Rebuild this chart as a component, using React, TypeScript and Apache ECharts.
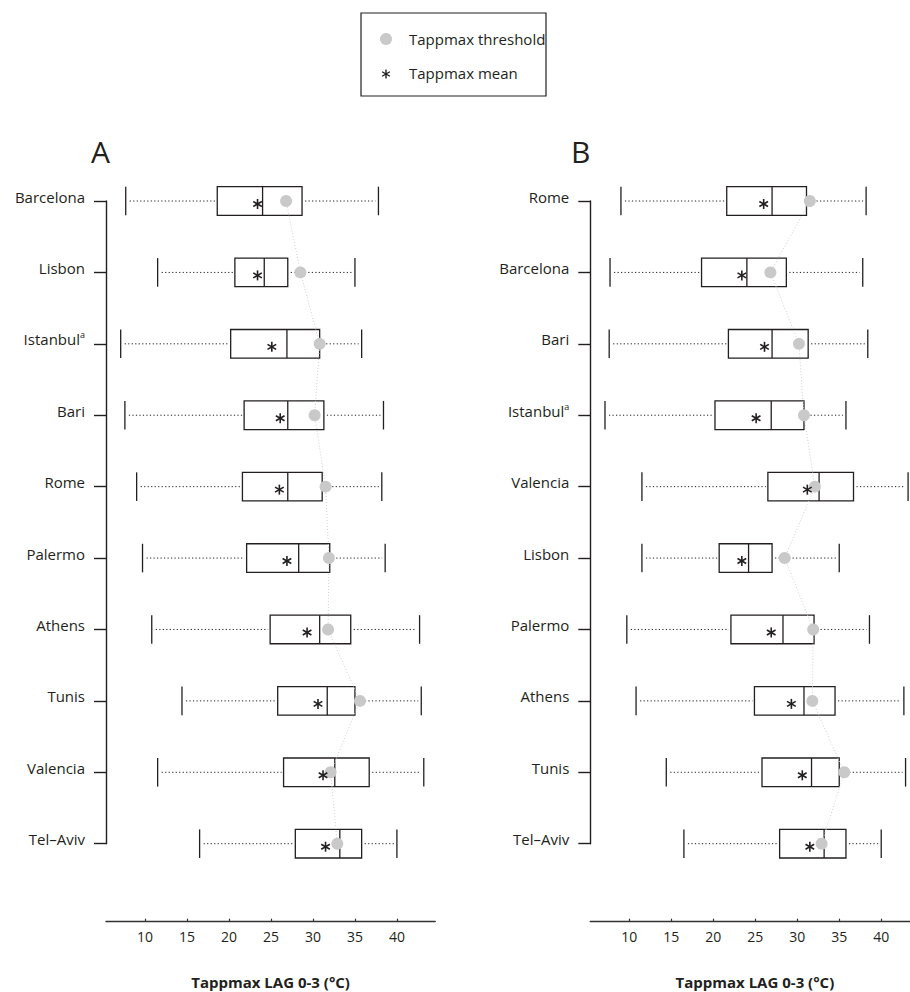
import React, { useEffect, useRef } from 'react';
import * as echarts from 'echarts';

// ---- data ----
const cities = ['Barcelona', 'Lisbon', 'Istanbul', 'Bari', 'Rome', 'Palermo', 'Athens', 'Tunis', 'Valencia', 'Tel\u2013Aviv'];
const lowerWhisker = [7.7, 11.5, 7.1, 7.6, 9.0, 9.7, 10.8, 14.4, 11.5, 16.5];
const q1 = [18.6, 20.7, 20.2, 21.8, 21.6, 22.1, 24.9, 25.8, 26.5, 27.9];
const median = [24.0, 24.2, 26.9, 27.0, 27.0, 28.3, 30.8, 31.7, 32.6, 33.2];
const q3 = [28.7, 27.0, 30.8, 31.3, 31.1, 32.0, 34.5, 35.0, 36.7, 35.8];
const upperWhisker = [37.8, 35.0, 35.8, 38.4, 38.2, 38.6, 42.7, 42.9, 43.2, 40.0];
const meanValue = [23.4, 23.4, 25.1, 26.1, 26.0, 26.9, 29.3, 30.6, 31.2, 31.5];
const threshold = [26.8, 28.5, 30.8, 30.2, 31.5, 31.9, 31.8, 35.6, 32.1, 32.9];

const orderA = ['Barcelona', 'Lisbon', 'Istanbul', 'Bari', 'Rome', 'Palermo', 'Athens', 'Tunis', 'Valencia', 'Tel\u2013Aviv'];
const orderB = ['Rome', 'Barcelona', 'Bari', 'Istanbul', 'Valencia', 'Lisbon', 'Palermo', 'Athens', 'Tunis', 'Tel\u2013Aviv'];

const xTicks = [10, 15, 20, 25, 30, 35, 40];
const panelLabels = ['A', 'B'];
const legendLabels = ['Tappmax threshold', 'Tappmax mean'];
const axisTitle = 'Tappmax LAG 0-3 (\u00B0C)';

// ---- styles ----
const FONT = '"Open Sans", "Noto Sans", sans-serif';
const INK = '#231f20';
const GREY = '#c9c9c9';
const X_MIN = 5.35;
const X_MAX = 44.56;
const BOX_HALF = 14.3;

function asterisk(cx: number, cy: number, r: number, lw: number, z?: number) {
  const out: any[] = [];
  for (let k = 0; k < 3; k++) {
    const a = Math.PI / 2 + (k * Math.PI) / 3;
    const dx = Math.cos(a) * r;
    const dy = Math.sin(a) * r;
    const el: any = {
      type: 'line',
      shape: { x1: cx - dx, y1: cy - dy, x2: cx + dx, y2: cy + dy },
      style: { stroke: INK, lineWidth: lw },
    };
    if (z !== undefined) el.z = z;
    out.push(el);
  }
  return out;
}

function panelData(order: string[]) {
  const idx = order.map((c) => cities.indexOf(c));
  return {
    boxes: idx.map((i, k) => [k, lowerWhisker[i], q1[i], median[i], q3[i], upperWhisker[i]]),
    means: idx.map((i, k) => [meanValue[i], k]),
    thresholds: idx.map((i, k) => [threshold[i], k]),
  };
}

function boxRender(params: any, api: any) {
  const yi = api.value(0);
  const lo = api.coord([api.value(1), yi]);
  const b1 = api.coord([api.value(2), yi]);
  const md = api.coord([api.value(3), yi]);
  const b3 = api.coord([api.value(4), yi]);
  const hi = api.coord([api.value(5), yi]);
  const cy = lo[1];
  const h = BOX_HALF;
  const dot = { stroke: INK, lineWidth: 1, lineDash: [1.2, 2.3] };
  const solid = { stroke: INK, lineWidth: 1.3 };
  return {
    type: 'group',
    children: [
      { type: 'line', shape: { x1: lo[0] + 4, y1: cy, x2: b1[0] - 2, y2: cy }, style: dot },
      { type: 'line', shape: { x1: b3[0] + 3, y1: cy, x2: hi[0] - 3, y2: cy }, style: dot },
      { type: 'line', shape: { x1: lo[0], y1: cy - h, x2: lo[0], y2: cy + h }, style: solid },
      { type: 'line', shape: { x1: hi[0], y1: cy - h, x2: hi[0], y2: cy + h }, style: solid },
      { type: 'rect', shape: { x: b1[0], y: cy - h, width: b3[0] - b1[0], height: 2 * h }, style: { fill: 'none', stroke: INK, lineWidth: 1.3 } },
      { type: 'line', shape: { x1: md[0], y1: cy - h, x2: md[0], y2: cy + h }, style: solid },
    ],
  };
}

function meanRender(params: any, api: any) {
  const p = api.coord([api.value(0), api.value(1)]);
  return { type: 'group', children: asterisk(p[0], p[1] + 3, 5, 1.6) };
}

export default function App() {
  const ref = useRef<HTMLDivElement>(null);
  useEffect(() => {
    if (!ref.current) return;
    const chart = echarts.init(ref.current, undefined, { renderer: 'svg' });
    const A = panelData(orderA);
    const B = panelData(orderB);
    const lefts = [106, 590.3];

    const xAxis = lefts.map((_, gi) => ({
      type: 'value',
      gridIndex: gi,
      min: X_MIN,
      max: X_MAX,
      position: 'bottom',
      offset: 78,
      splitLine: { show: false },
      axisLine: { show: true, lineStyle: { color: '#333', width: 1.4 } },
      axisTick: { show: true, inside: true, length: 3, customValues: xTicks, lineStyle: { color: '#333', width: 1.2 } },
      axisLabel: { customValues: xTicks, color: INK, fontFamily: FONT, fontSize: 14, margin: 8 },
      name: axisTitle,
      nameLocation: 'middle',
      nameGap: 53,
      nameTextStyle: { color: INK, fontFamily: FONT, fontSize: 15, fontWeight: 'bold' },
    }));

    const yAxis = [orderA, orderB].map((order, gi) => ({
      type: 'category',
      gridIndex: gi,
      data: order,
      inverse: true,
      boundaryGap: false,
      axisLine: { show: true, lineStyle: { color: INK, width: 1.4 } },
      axisTick: { show: true, length: 12, lineStyle: { color: INK, width: 1.4 } },
      splitLine: { show: false },
      axisLabel: {
        color: INK,
        fontFamily: FONT,
        fontSize: 15,
        margin: 21,
        padding: [0, 0, 9, 0],
        formatter: (v: string) => (v === 'Istanbul' ? 'Istanbul{sup|a}' : v),
        rich: { sup: { fontSize: 9, color: INK, fontFamily: FONT, padding: [0, 0, 9, 0] } },
      },
    }));

    const series: any[] = [];
    [A, B].forEach((d, gi) => {
      series.push({
        type: 'custom',
        name: 'box' + gi,
        xAxisIndex: gi,
        yAxisIndex: gi,
        data: d.boxes,
        encode: { x: [1, 2, 3, 4, 5], y: 0 },
        renderItem: boxRender,
        z: 2,
        clip: false,
      });
      series.push({
        type: 'line',
        name: legendLabels[0],
        xAxisIndex: gi,
        yAxisIndex: gi,
        data: d.thresholds,
        symbol: 'circle',
        symbolSize: 12,
        itemStyle: { color: GREY },
        lineStyle: { color: '#cfcfcf', width: 1, type: [1, 2] },
        z: 3,
      });
      series.push({
        type: 'custom',
        name: legendLabels[1],
        xAxisIndex: gi,
        yAxisIndex: gi,
        data: d.means,
        encode: { x: 0, y: 1 },
        renderItem: meanRender,
        z: 4,
        clip: false,
      });
    });

    const graphic: any[] = [
      { type: 'rect', shape: { x: 361, y: 13, width: 185, height: 83 }, style: { fill: 'none', stroke: INK, lineWidth: 1.2 }, z: 10 },
      { type: 'circle', shape: { cx: 386, cy: 39, r: 6 }, style: { fill: GREY }, z: 11 },
      { type: 'text', x: 409, y: 39, style: { text: legendLabels[0], fill: INK, font: `15px ${FONT}`, verticalAlign: 'middle' }, z: 11 },
      ...asterisk(386, 74, 4.5, 1.4, 11),
      { type: 'text', x: 409, y: 73, style: { text: legendLabels[1], fill: INK, font: `15px ${FONT}`, verticalAlign: 'middle' }, z: 11 },
      { type: 'text', x: 91, y: 151, style: { text: panelLabels[0], fill: INK, font: `30px ${FONT}`, verticalAlign: 'middle' } },
      { type: 'text', x: 571, y: 151, style: { text: panelLabels[1], fill: INK, font: `30px ${FONT}`, verticalAlign: 'middle' } },
    ];

    chart.setOption({
      animation: false,
      backgroundColor: '#fff',
      grid: lefts.map((l) => ({ left: l, top: 201, width: 329.2, height: 642.7, containLabel: false, outerBoundsMode: 'none' })),
      xAxis,
      yAxis,
      series,
      graphic,
    });
    return () => chart.dispose();
  }, []);
  return <div ref={ref} style={{ position: 'absolute', left: 0, top: 0, width: 910, height: 992 }} />;
}
